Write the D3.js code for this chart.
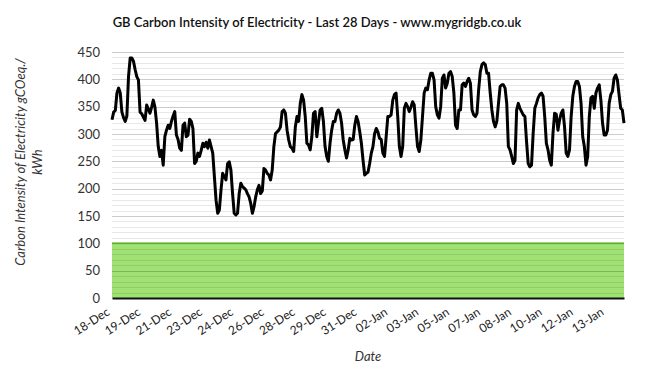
<!DOCTYPE html>
<html>
<head>
<meta charset="utf-8">
<script src="https://cdn.jsdelivr.net/npm/d3@7"></script>
<style>
html,body{margin:0;padding:0;background:#fff;}
svg{display:block;font-family:Lato, "Open Sans", sans-serif;}
</style>
</head>
<body>
<svg id="chart" width="652" height="373"></svg>
<script>
const title = "GB Carbon Intensity of Electricity - Last 28 Days - www.mygridgb.co.uk";
const yTitleLines = ["Carbon Intensity of Electricity gCOeq./", "kWh"];
const xTitle = "Date";
const xTickLabels = ["18-Dec","19-Dec","21-Dec","23-Dec","24-Dec","26-Dec","28-Dec","29-Dec","31-Dec",
  "02-Jan","03-Jan","05-Jan","07-Jan","08-Jan","10-Jan","12-Jan","13-Jan"];
const yTicks = [0,50,100,150,200,250,300,350,400,450];
const greenBand = [0,100];
const intensity = [
 326,340,343,375,384,375,340,330,323,333,405,439,439,433,418,405,399,340,337,331,325,353,346,338,349,362,349,320,277,259,270,243,295,307,316,310,323,333,341,298,290,274,270,316,320,295,298,327,323,310,246,
 250,265,259,270,283,277,285,274,289,277,265,222,179,155,161,198,228,222,216,246,249,234,191,155,152,155,191,210,204,201,198,191,185,173,155,167,185,198,206,191,196,237,234,228,225,216,234,277,301,304,307,313,341,344,
 338,307,289,277,274,268,313,332,323,356,372,362,332,283,280,271,295,338,341,295,320,344,347,323,277,259,250,283,307,323,323,338,344,338,320,289,271,256,271,292,289,290,316,332,323,304,283,252,225,228,230,246,265,
 277,301,310,304,292,290,265,259,295,332,332,335,362,372,375,332,277,259,277,347,356,350,341,349,359,353,313,277,268,289,332,375,384,381,399,411,411,399,350,335,329,350,402,408,384,393,411,414,405,375,316,310,344,
 344,390,393,387,396,402,393,344,335,332,338,381,414,427,430,427,411,411,375,344,323,313,323,356,387,390,390,384,356,277,271,259,246,252,344,356,347,341,335,332,286,246,240,243,301,347,356,366,372,375,369,332,283,
 271,252,243,301,338,336,307,326,338,344,313,265,259,271,332,369,387,396,396,387,356,295,277,243,259,332,366,369,347,375,384,390,362,320,298,298,307,356,372,378,402,408,399,372,347,344,320
];
const labelStepPoints = 18.7;

const W = 652, H = 373;
const m = {left:112, right:28, top:52, bottom:75};
const iw = W - m.left - m.right, ih = H - m.top - m.bottom;
const svg = d3.select("#chart");
const g = svg.append("g").attr("transform", `translate(${m.left},${m.top})`);

const x = d3.scaleLinear().domain([0, intensity.length - 1]).range([0, iw]);
const y = d3.scaleLinear().domain([0, 450]).range([ih, 0]);

// green band
g.append("rect").attr("x", 0).attr("width", iw)
  .attr("y", y(greenBand[1])).attr("height", y(greenBand[0]) - y(greenBand[1]))
  .attr("fill", "#a0e174");
g.append("line").attr("x1",0).attr("x2",iw).attr("y1",y(greenBand[1])).attr("y2",y(greenBand[1]))
  .attr("stroke","#7bd04a").attr("stroke-width",2);

// gridlines minor & major
const minor = d3.range(10, 451, 10).filter(v => v % 50 !== 0);
g.append("g").selectAll("line").data(minor).join("line")
  .attr("x1",0).attr("x2",iw).attr("y1",d=>Math.round(y(d))+0.5).attr("y2",d=>Math.round(y(d))+0.5)
  .attr("stroke","rgba(0,0,0,0.09)").attr("stroke-width",1);
g.append("g").selectAll("line").data(yTicks.filter(v=>v>0)).join("line")
  .attr("x1",0).attr("x2",iw).attr("y1",d=>Math.round(y(d))+0.5).attr("y2",d=>Math.round(y(d))+0.5)
  .attr("stroke","rgba(0,0,0,0.2)").attr("stroke-width",1);

// y axis labels
const yAxis = d3.axisLeft(y).tickValues(yTicks).tickSize(0).tickPadding(12);
const ya = g.append("g").call(yAxis);
ya.select(".domain").remove();
ya.selectAll("text").attr("font-size", 13).attr("fill", "#333").style("font-family","Lato, sans-serif");

// x axis
const xTickVals = xTickLabels.map((d,i)=> i * labelStepPoints);
const xAxis = d3.axisBottom(x).tickValues(xTickVals).tickFormat((d,i)=>xTickLabels[i]).tickSize(0);
const xa = g.append("g").attr("transform",`translate(0,${ih})`).call(xAxis);
xa.select(".domain").attr("stroke","#111").attr("stroke-width",2);
xa.selectAll("text")
  .attr("font-size", 12).attr("fill","#222").style("font-family","Lato, sans-serif")
  .attr("text-anchor","end").attr("dy", null).attr("y", 0)
  .attr("transform","translate(-2,16) rotate(-33)");

// line
const line = d3.line().x((d,i)=>x(i)).y(d=>y(d)).curve(d3.curveLinear);
g.append("path").datum(intensity).attr("d", line)
  .attr("fill","none").attr("stroke","#000").attr("stroke-width",3).attr("stroke-linejoin","round");

// title
svg.append("text").attr("x", 317).attr("y", 27).attr("text-anchor","middle")
  .attr("font-size", 13).attr("font-weight", 600).attr("fill","#111").text(title);

// axis titles
svg.append("text").attr("x", 368).attr("y", 361).attr("text-anchor","middle")
  .attr("font-size", 13).attr("font-style","italic").attr("fill","#333").text(xTitle);
const yt = svg.append("text").attr("transform","translate(25,162) rotate(-90)")
  .attr("text-anchor","middle").attr("font-size",13).attr("font-style","italic").attr("fill","#333");
yTitleLines.forEach((t,i)=> yt.append("tspan").attr("x",0).attr("dy", i===0 ? 0 : 17).text(t));
</script>
</body>
</html>
